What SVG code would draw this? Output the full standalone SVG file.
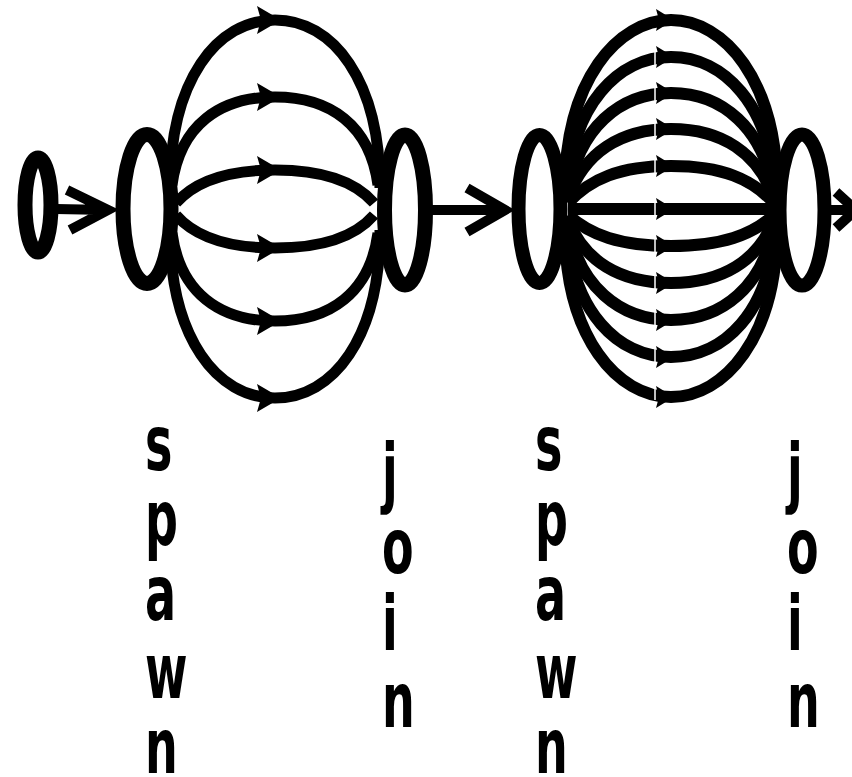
<svg xmlns="http://www.w3.org/2000/svg" width="852" height="777" viewBox="0 0 852 777">
<style>
.node{fill:#fff;stroke:#000;stroke-width:15}
.a1{fill:none;stroke:#000;stroke-width:11;marker-mid:url(#ah1)}
.a2{fill:none;stroke:#000;stroke-width:12;marker-mid:url(#ah2)}
.flow{fill:none;stroke:#000;stroke-width:10}
.lbl{font-family:"DejaVu Sans",Verdana,sans-serif;font-weight:bold;font-size:46px;fill:#000}
</style>
<defs>
<marker id="ah1" markerUnits="userSpaceOnUse" viewBox="0 0 24 28" markerWidth="24" markerHeight="28" refX="18" refY="14" orient="auto"><path d="M0,0 L24,14 L0,28 L4,14 Z" fill="#000"/></marker>
<marker id="ah2" markerUnits="userSpaceOnUse" viewBox="0 0 18 22" markerWidth="18" markerHeight="22" refX="15" refY="11" orient="auto"><path d="M0,0 L18,11 L0,22 L3,11 Z" fill="#000"/></marker>
</defs>
<rect width="852" height="777" fill="#fff"/>
<g id="connectors">
<path class="a1" d="M170,188 C170,80 217,20 275,20 C333,20 380,80 380,188"/>
<path class="a1" d="M172,185 C180,125 220,97 275,97 C330,97 370,125 378,185"/>
<path class="a1" d="M176,203 C196,180 232,170 275,170 C318,170 354,180 374,203"/>
<path class="a1" d="M176,215 C196,238 232,248 275,248 C318,248 354,238 374,215"/>
<path class="a1" d="M172,233 C180,293 220,321 275,321 C330,321 370,293 378,233"/>
<path class="a1" d="M170,230 C170,338 217,398 275,398 C333,398 380,338 380,230"/>
<path class="a2" d="M565,190 C565,80 618,20 671,20 C724,20 777,80 777,190"/>
<path class="a2" d="M567,190 C572,105 618,57 671,57 C724,57 770,105 775,190"/>
<path class="a2" d="M568,194 C578,128 620,93 671,93 C722,93 764,128 774,194"/>
<path class="a2" d="M568,198 C584,153 620,129 671,129 C722,129 758,153 774,198"/>
<path class="a2" d="M568,203 C590,179 620,166 671,166 C722,166 752,179 774,203"/>
<path class="a2" d="M568,209 L671,209 L774,209"/>
<path class="a2" d="M568,215 C590,235 620,246 671,246 C722,246 752,235 774,215"/>
<path class="a2" d="M568,220 C584,261 620,283 671,283 C722,283 758,261 774,220"/>
<path class="a2" d="M568,224 C578,286 620,320 671,320 C722,320 764,286 774,224"/>
<path class="a2" d="M567,228 C572,312 618,357 671,357 C724,357 770,312 775,228"/>
<path class="a2" d="M565,228 C565,338 618,397 671,397 C724,397 777,338 777,228"/>
<line x1="655" y1="30" x2="655" y2="400" stroke="#fff" stroke-width="1.5"/>
<path class="flow" d="M56,209 L108,210 M67,190 L108,210 L70,230"/>
<path class="flow" d="M430,210 L503,210 M467,188 L505,210 L467,232"/>
<path class="flow" d="M828,210 L852,210 M836,192 L856,210 L836,228"/>
</g>
<g id="start"><ellipse class="node" cx="38" cy="205" rx="13" ry="47"/></g>
<g id="spawn1"><ellipse class="node" cx="147" cy="209" rx="24" ry="74.5"/>
<text class="lbl" transform="scale(1,1.65)"><tspan x="145" y="284.8">s</tspan><tspan x="145" y="330.3">p</tspan><tspan x="145" y="375.8">a</tspan><tspan x="145" y="423">w</tspan><tspan x="145" y="468.5">n</tspan></text></g>
<g id="join1"><ellipse class="node" cx="405" cy="210" rx="20.5" ry="75"/>
<text class="lbl" transform="scale(1,1.65)"><tspan x="382" y="301.8">j</tspan><tspan x="382" y="347.3">o</tspan><tspan x="382" y="393.9">i</tspan><tspan x="382" y="440.6">n</tspan></text></g>
<g id="spawn2"><ellipse class="node" cx="539.5" cy="209" rx="21" ry="74" style="stroke-width:14"/>
<text class="lbl" transform="scale(1,1.65)"><tspan x="535" y="284.8">s</tspan><tspan x="535" y="330.3">p</tspan><tspan x="535" y="375.8">a</tspan><tspan x="535" y="423">w</tspan><tspan x="535" y="468.5">n</tspan></text></g>
<g id="join2"><ellipse class="node" cx="802" cy="210" rx="22.5" ry="75.5" style="stroke-width:14"/>
<text class="lbl" transform="scale(1,1.65)"><tspan x="787" y="301.8">j</tspan><tspan x="787" y="347.3">o</tspan><tspan x="787" y="393.9">i</tspan><tspan x="787" y="440.6">n</tspan></text></g>
</svg>
